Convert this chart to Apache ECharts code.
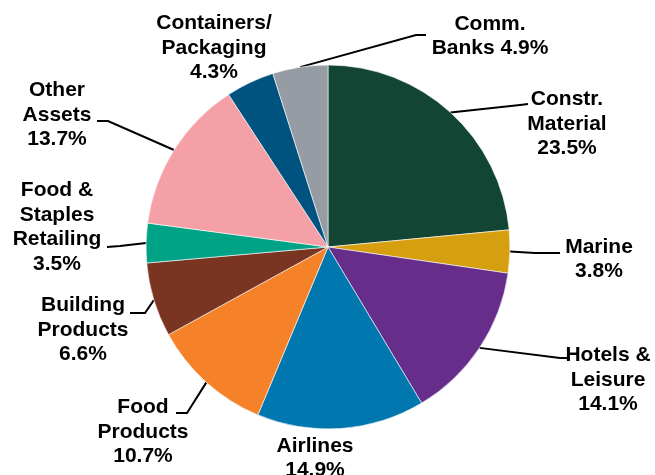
<!DOCTYPE html>
<html>
<head>
<meta charset="utf-8">
<script src="https://cdn.jsdelivr.net/npm/echarts@6/dist/echarts.min.js"></script>
<style>
html,body{margin:0;padding:0;background:#fff;}
#chart{width:655px;height:475px;}
</style>
</head>
<body>
<div id="chart"></div>
<script>
// Data
var categories = ['Constr.\nMaterial', 'Marine', 'Hotels &\nLeisure', 'Airlines', 'Food\nProducts',
  'Building\nProducts', 'Food &\nStaples\nRetailing', 'Other\nAssets', 'Containers/\nPackaging', 'Comm.\nBanks'];
var values = [23.5, 3.8, 14.1, 14.9, 10.7, 6.6, 3.5, 13.7, 4.3, 4.9];

// Styles / layout (not data)
var colors = ['#134535', '#D59F0F', '#662D8A', '#0077AE', '#F58229', '#7A3522', '#00A386', '#F4A0A6', '#00527F', '#959CA3'];
var valueSep = ['\n', '\n', '\n', '\n', '\n', '\n', '\n', '\n', '\n', ' '];
var labelPos = [[567,124],[599,259],[608,380],[315,458],[143,432],[83,330],[57,227],[57,115],[214,48],[490,36]];
var linePts = [
  [[520,105],[528,104]],
  [[535,253],[560,253]],
  [[560,358],[568,358]],
  null,
  [[187,413],[176,413]],
  [[145,313],[130,313]],
  [[120,246],[107,247]],
  [[108,121],[97,121]],
  null,
  [[416,35],[426,35]]
];

var data = categories.map(function (c, i) {
  var d = { name: c, value: values[i], itemStyle: { color: colors[i] } };
  if (!linePts[i]) d.labelLine = { show: false };
  return d;
});

var chart = echarts.init(document.getElementById('chart'), null, { renderer: 'canvas' });
chart.setOption({
  animation: false,
  series: [{
    type: 'pie',
    center: [328, 247],
    radius: 182,
    startAngle: 90,
    clockwise: true,
    avoidLabelOverlap: false,
    silent: true,
    itemStyle: { borderColor: '#ffffff', borderWidth: 0.6 },
    label: {
      show: true,
      position: 'outside',
      fontFamily: 'Liberation Sans, Arial, sans-serif',
      fontWeight: 'bold',
      fontSize: 21,
      lineHeight: 24.5,
      color: '#000',
      align: 'center',
      formatter: function (p) {
        return p.name + valueSep[p.dataIndex] + p.value.toFixed(1) + '%';
      }
    },
    labelLine: { show: true, lineStyle: { color: '#000', width: 2 } },
    labelLayout: function (params) {
      var i = params.dataIndex;
      var res = {
        x: labelPos[i][0],
        y: labelPos[i][1],
        align: 'center',
        verticalAlign: 'middle'
      };
      if (linePts[i] && params.labelLinePoints) {
        res.labelLinePoints = [params.labelLinePoints[0], linePts[i][0], linePts[i][1]];
      }
      return res;
    },
    data: data
  }]
});
</script>
</body>
</html>
